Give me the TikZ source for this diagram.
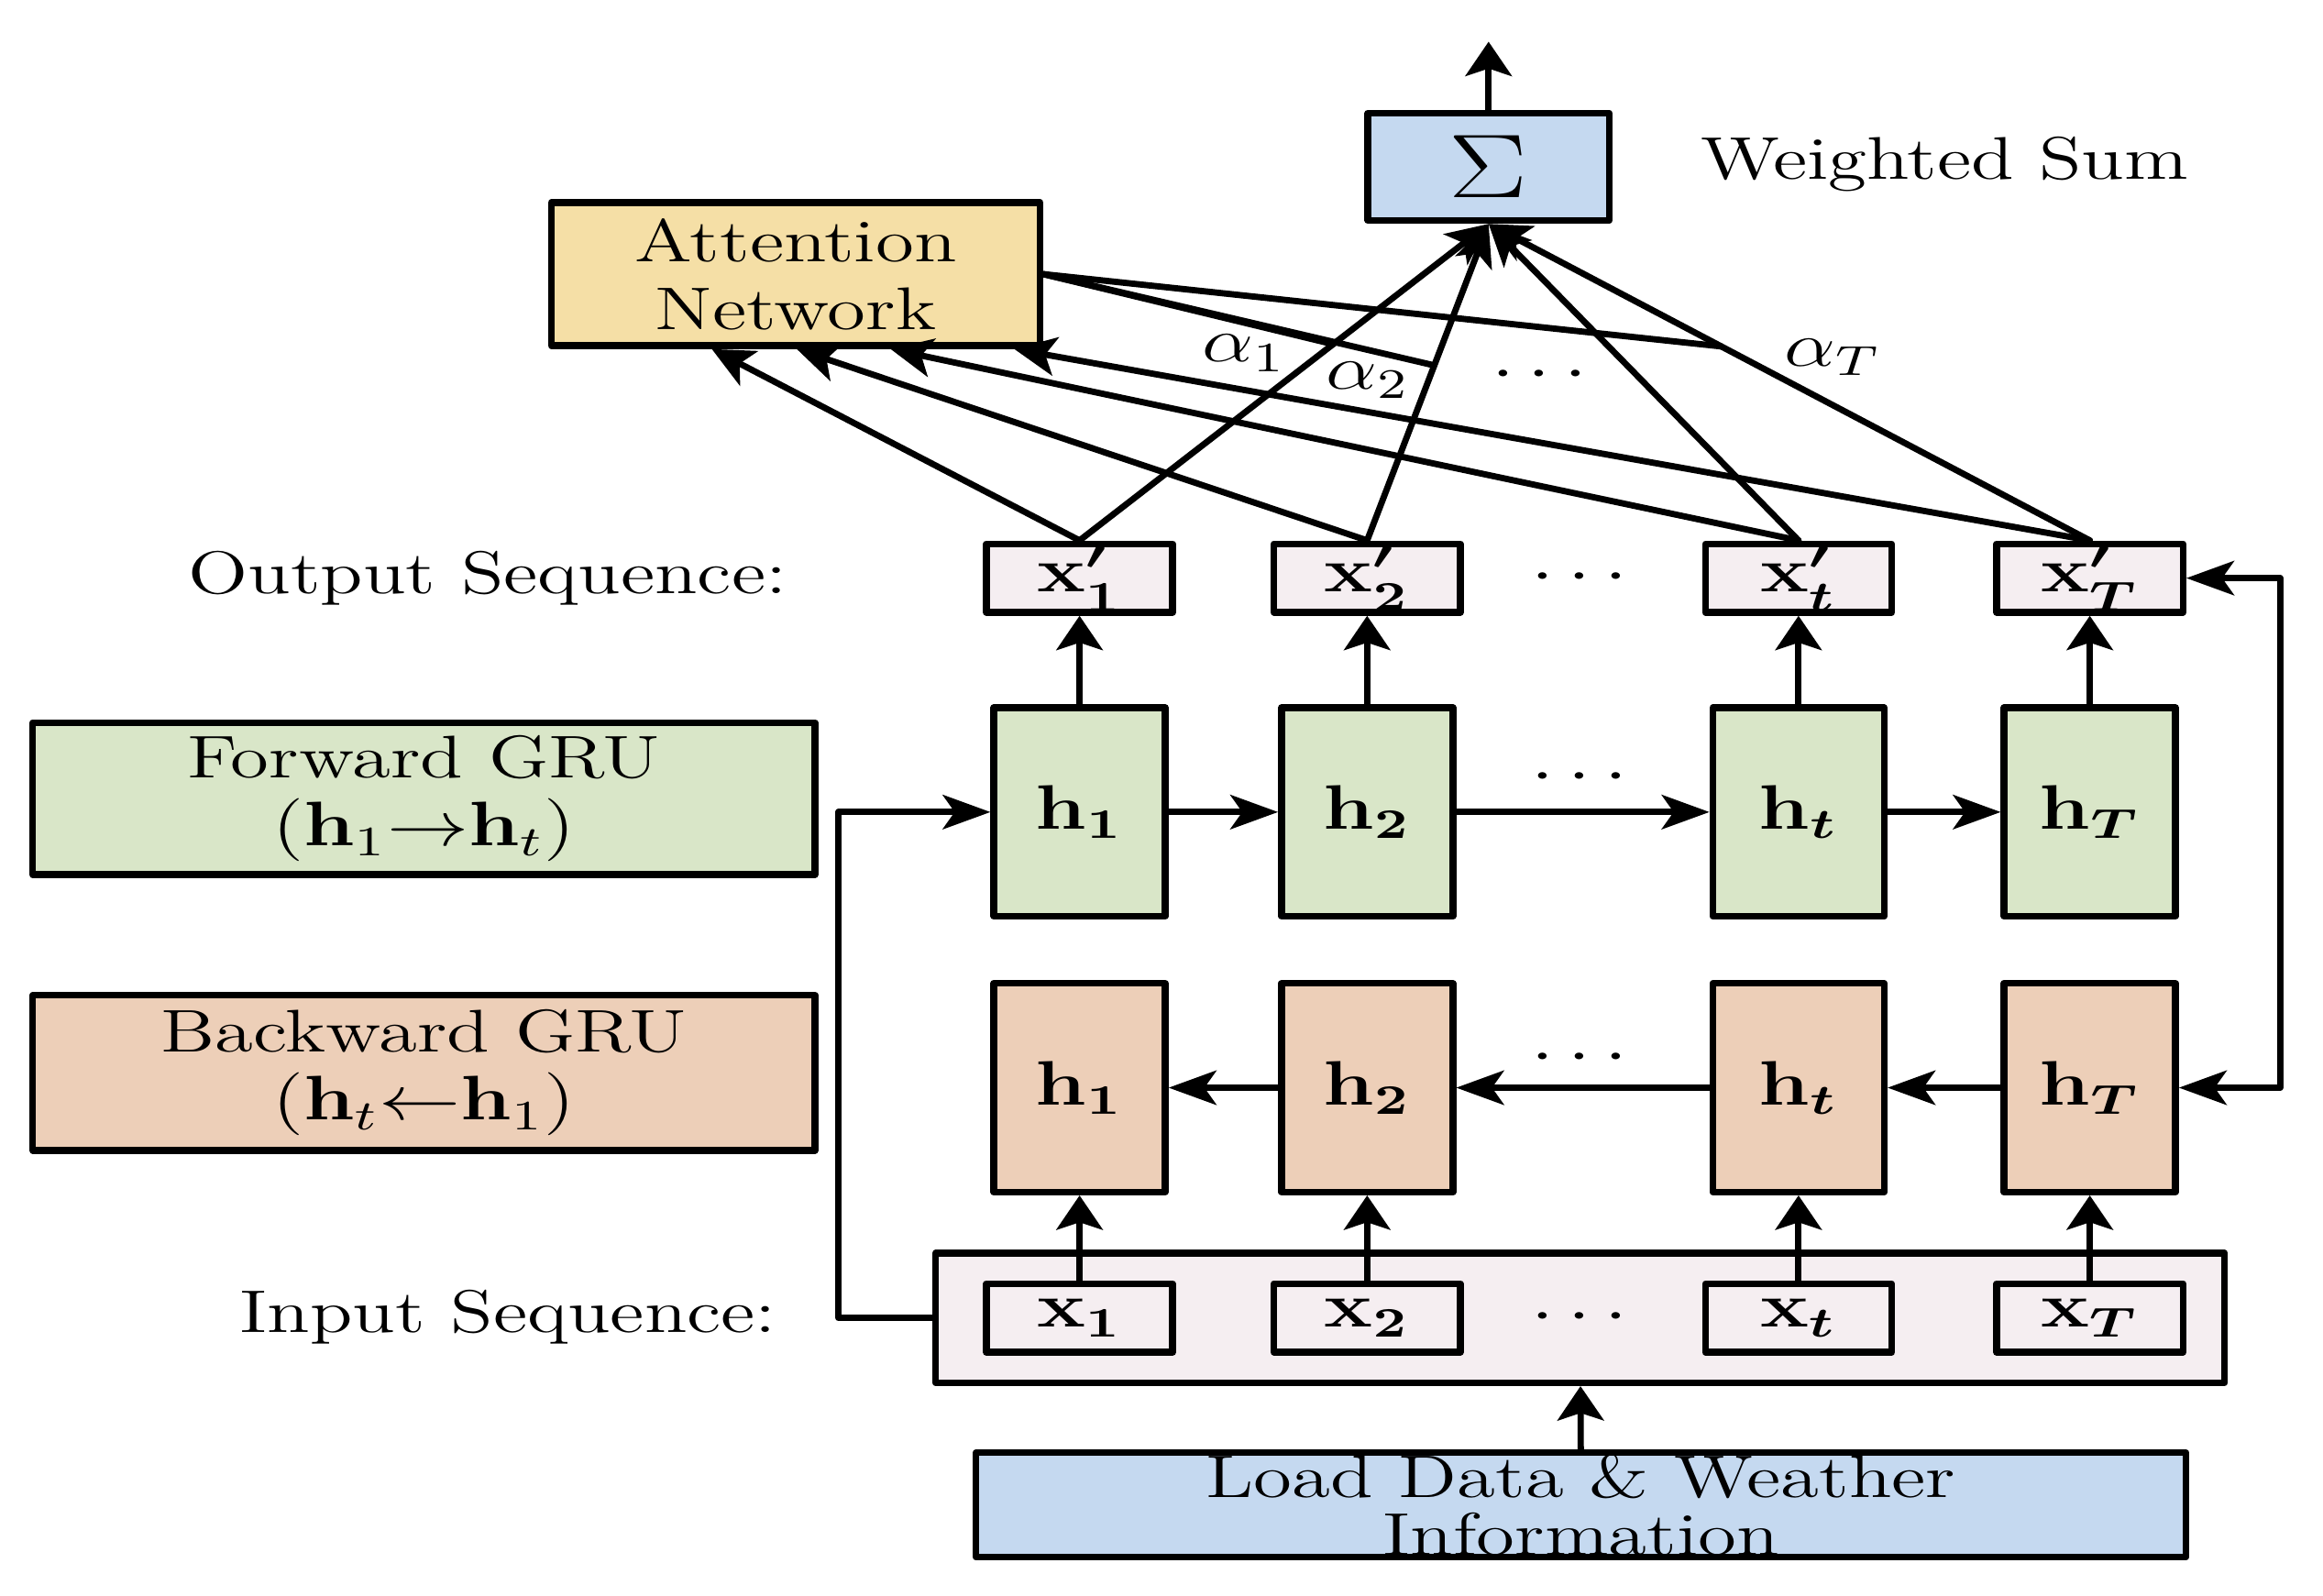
\documentclass[tikz,border=0pt]{standalone}
\usepackage{graphicx}
\usetikzlibrary{arrows.meta,calc}

\definecolor{sumblue}{HTML}{C5D9F0}
\definecolor{attyellow}{HTML}{F5DFA6}
\definecolor{fwdgreen}{HTML}{D9E6C8}
\definecolor{bwdpeach}{HTML}{EDCFB8}
\definecolor{seqpink}{HTML}{F5EEF1}

% the scan is stretched sideways, so the text is too
\newcommand{\wtxt}[1]{\scalebox{1.3}[1]{#1}}

\begin{document}
\begin{tikzpicture}[line cap=round, line join=round, line width=1.2pt,
  font=\fontsize{11.5}{13}\selectfont,
  box/.style={draw, line width=1.3pt, inner sep=0pt, align=center},
  seqbox/.style={box, fill=seqpink, minimum width=1.25cm, minimum height=0.46cm},
  hbox/.style={box, minimum width=1.15cm, minimum height=1.40cm},
  harr/.style={-{Stealth[length=3.2mm,width=2.3mm,inset=0.8mm]}},
  varr/.style={-{Stealth[length=2.3mm,width=3.1mm,inset=0.5mm]}},
  darr/.style={-{Stealth[length=2.8mm,width=2.6mm,inset=0.7mm]}},
  dblarr/.style={{Stealth[length=3.2mm,width=2.3mm,inset=0.8mm]}-{Stealth[length=3.2mm,width=2.3mm,inset=0.8mm]}}]

\useasboundingbox (0,0) rectangle (15.59,10.71);

% input frame first, so the x boxes sit on it
\node[box, fill=seqpink, minimum width=8.65cm, minimum height=0.87cm] (inseq) at (10.605,1.865) {};

% the four columns
\foreach \n/\x in {1/7.245, 2/9.175, t/12.07, T/14.025} {
  \node[seqbox] (xo\n) at (\x,6.83) {\wtxt{\boldmath$\mathbf{x}'_{\n}$}};
  \node[hbox, fill=fwdgreen] (f\n) at (\x,5.26) {\wtxt{\boldmath$\mathbf{h}_{\n}$}};
  \node[hbox, fill=bwdpeach] (b\n) at (\x,3.41) {\wtxt{\boldmath$\mathbf{h}_{\n}$}};
  \node[seqbox] (xi\n) at (\x,1.865) {\wtxt{\boldmath$\mathbf{x}_{\n}$}};
  \draw[varr] (f\n) -- (xo\n);
  \draw[varr] (xi\n) -- (b\n);
}

% dots between column 2 and column t
\node (dout) at (10.6,6.83) {\wtxt{$\cdots$}};
\node (dfwd) at (10.6,5.49) {\wtxt{$\cdots$}};
\node (dbwd) at (10.6,3.61) {\wtxt{$\cdots$}};
\node (din)  at (10.6,1.865) {\wtxt{$\cdots$}};

% forward and backward chains
\draw[harr] (f1) -- (f2);
\draw[harr] (f2) -- (ft);
\draw[harr] (ft) -- (fT);
\draw[harr] (bT) -- (bt);
\draw[harr] (bt) -- (b2);
\draw[harr] (b2) -- (b1);

% labels on the left
\node[box, fill=fwdgreen, minimum width=5.25cm, minimum height=1.02cm] (fgru) at (2.845,5.35)
  {\wtxt{Forward GRU}\\\wtxt{$(\mathbf{h}_1{\rightarrow}\mathbf{h}_t)$}};
\node[box, fill=bwdpeach, minimum width=5.25cm, minimum height=1.04cm] (bgru) at (2.845,3.51)
  {\wtxt{Backward GRU}\\\wtxt{$(\mathbf{h}_t{\leftarrow}\mathbf{h}_1)$}};
\node[anchor=east] (outlbl) at (5.42,6.83) {\wtxt{Output Sequence:}};
\node[anchor=east] (inlbl) at (5.35,1.87) {\wtxt{Input Sequence:}};

% data source
\node[box, fill=sumblue, minimum width=8.12cm, minimum height=0.70cm, inner ysep=-1pt,
  font=\fontsize{11.5}{11}\selectfont] (load) at (10.61,0.61)
  {\wtxt{Load Data \& Weather}\\\wtxt{Information}};
\draw[varr] (load) -- (inseq);

% skip connections round the sides
\draw[harr] (inseq.west) -- ++(-0.63,0) |- (f1.west);
\draw[dblarr] (xoT.east) -- ++(0.63,0) |- (bT.east);

% attention and weighted sum
\node[box, fill=attyellow, minimum width=3.28cm, minimum height=0.96cm] (att) at (5.34,8.87)
  {\wtxt{Attention}\\\wtxt{Network}};
\node[box, fill=sumblue, minimum width=1.62cm, minimum height=0.72cm] (sum) at (9.99,9.59)
  {\wtxt{\fontsize{16}{18}\selectfont$\Sigma$}};
\node (wsum) at (13.05,9.61) {\wtxt{Weighted Sum}};
\coordinate (out) at (9.99,10.43);
\draw[varr] (sum) -- (out);

\coordinate (a1) at ($(att.south west)+(1.10,0)$);
\coordinate (a2) at ($(att.south west)+(1.67,0)$);
\coordinate (at) at ($(att.south west)+(2.30,0)$);
\coordinate (aT) at ($(att.south west)+(3.13,0)$);
\foreach \n in {1,2,t,T} {
  \draw[darr] (xo\n.north) -- (a\n);
  \draw[darr] (xo\n.north) -- (sum.south);
}

% weights coming out of the attention network
\coordinate (e1) at ($(xo1.north)!0.62!(sum.south)$);
\coordinate (e2) at ($(xo2.north)!0.553!(sum.south)$);
\coordinate (eT) at ($(xoT.north)!0.613!(sum.south)$);
\draw (att.east) -- (e1);
\draw (att.east) -- (e2);
\draw (att.east) -- (eT);
\node (al1) at (8.35,8.34) {\wtxt{$\alpha_1$}};
\node (al2) at (9.18,8.16) {\wtxt{$\alpha_2$}};
\node (alT) at (12.30,8.31) {\wtxt{$\alpha_T$}};
\node (dal) at (10.33,8.19) {\wtxt{$\cdots$}};

\end{tikzpicture}
\end{document}
